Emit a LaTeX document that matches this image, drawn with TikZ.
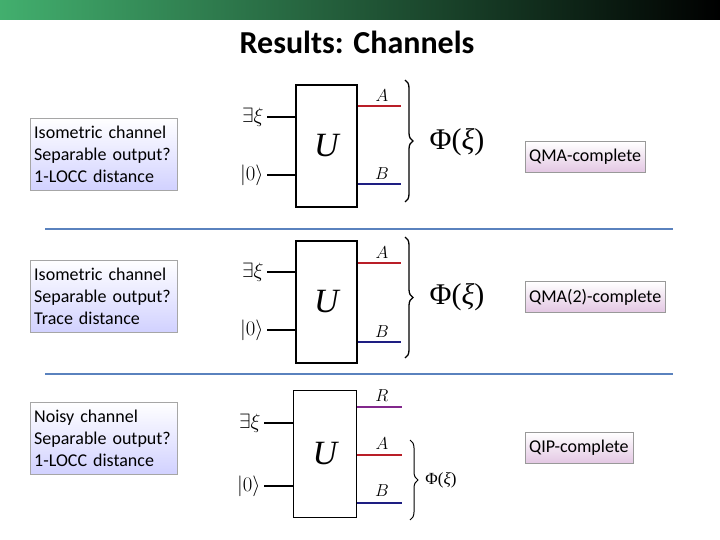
\documentclass[tikz,border=0pt]{standalone}
\usepackage{fontspec}
\setmainfont{Carlito}
\newfontfamily\serf{Liberation Serif}
\usetikzlibrary{decorations.pathreplacing}
\definecolor{gA}{RGB}{66,175,110}
\definecolor{wA}{RGB}{185,30,40}
\definecolor{wB}{RGB}{30,30,130}
\definecolor{wR}{RGB}{130,40,140}
\definecolor{sepc}{RGB}{90,130,190}
\newcommand{\phixi}{Φ(\textit{ξ})}
\tikzset{
 info/.style={draw=gray!70,top color=white,bottom color=blue!18,anchor=north west,align=left,font=\fontsize{18}{22}\selectfont,inner sep=4pt,text width=139pt,minimum height=72pt},
 res/.style={draw=gray!80,top color=white,bottom color=violet!22,font=\fontsize{18}{20}\selectfont,minimum height=31pt,anchor=west,inner sep=4pt},
 gate/.style={draw,line width=1.8pt},
 wire/.style={line width=1.6pt},
 brc/.style={decorate,decoration={brace,amplitude=8pt},line width=1.3pt},
 sep/.style={draw=sepc,line width=1.8pt},
 tin/.style={left,font=\fontsize{20}{20}\selectfont},
 tab/.style={font=\fontsize{17}{17}\selectfont},
 bigu/.style={font=\serf\itshape\fontsize{34}{34}\selectfont},
 bigp/.style={font=\serf\fontsize{30}{30}\selectfont},
}
\begin{document}
\begin{tikzpicture}[x=1pt,y=-1pt]
\useasboundingbox (0,0) rectangle (720,540);
\shade[left color=gA,right color=black] (0,0) rectangle (720,20);
\node[font=\bfseries\fontsize{32}{34}\selectfont] (title) at (357,42) {Results: Channels};
% left boxes
\node[info] (i1) at (30,118) {Isometric channel\\Separable output?\\1-LOCC distance};
\node[info] (i2) at (30,260) {Isometric channel\\Separable output?\\Trace distance};
\node[info] (i3) at (30,402) {Noisy channel\\Separable output?\\1-LOCC distance};
% results
\node[res] (r1) at (525,157) {QMA-complete};
\node[res] (r2) at (525,297) {QMA(2)-complete};
\node[res] (r3) at (525,448) {QIP-complete};
% separators
\coordinate (s1a) at (45,229); \coordinate (s1b) at (673,229);
\coordinate (s2a) at (45,374); \coordinate (s2b) at (673,374);
\draw[sep] (s1a)--(s1b); \draw[sep] (s2a)--(s2b);
% circuit 1
\node[gate,minimum width=61pt,minimum height=122pt] (u1) at (326.5,146) {};
\node[bigu] (U1) at (u1) {U};
\coordinate (x1) at (267,117); \coordinate (z1) at (267,175);
\draw[wire] (x1)--(u1.west|-x1); \draw[wire] (z1)--(u1.west|-z1);
\node[tin] (lx1) at (x1) {$\exists\xi$};
\node[tin] (lz1) at (z1) {$|0\rangle$};
\coordinate (a1) at (401,106); \coordinate (b1) at (401,184);
\draw[wire,wA] (u1.east|-a1)--(a1); \draw[wire,wB] (u1.east|-b1)--(b1);
\node[tab] (la1) at (382,96) {$A$};
\node[tab] (lb1) at (382,174) {$B$};
\coordinate (bt1) at (405,80); \coordinate (bb1) at (405,202);
\draw[brc] (bt1)--(bb1);
\node[bigp] (p1) at (457,142) {\phixi};
% circuit 2
\node[gate,minimum width=61pt,minimum height=122pt] (u2) at (326.5,302) {};
\node[bigu] (U2) at (u2) {U};
\coordinate (x2) at (267,272); \coordinate (z2) at (267,330);
\draw[wire] (x2)--(u2.west|-x2); \draw[wire] (z2)--(u2.west|-z2);
\node[tin] (lx2) at (x2) {$\exists\xi$};
\node[tin] (lz2) at (z2) {$|0\rangle$};
\coordinate (a2) at (401,263); \coordinate (b2) at (401,342);
\draw[wire,wA] (u2.east|-a2)--(a2); \draw[wire,wB] (u2.east|-b2)--(b2);
\node[tab] (la2) at (382,253) {$A$};
\node[tab] (lb2) at (382,332) {$B$};
\coordinate (bt2) at (405,237); \coordinate (bb2) at (405,358);
\draw[brc] (bt2)--(bb2);
\node[bigp] (p2) at (457,297) {\phixi};
% circuit 3
\node[gate,minimum width=63pt,minimum height=127pt] (u3) at (325,454) {};
\node[bigu] (U3) at (u3) {U};
\coordinate (x3) at (264,423); \coordinate (z3) at (264,486);
\draw[wire] (x3)--(u3.west|-x3); \draw[wire] (z3)--(u3.west|-z3);
\node[tin] (lx3) at (x3) {$\exists\xi$};
\node[tin] (lz3) at (z3) {$|0\rangle$};
\coordinate (r3c) at (402,407); \coordinate (a3) at (402,455); \coordinate (b3) at (402,503);
\draw[wire,wR] (u3.east|-r3c)--(r3c); \draw[wire,wA] (u3.east|-a3)--(a3); \draw[wire,wB] (u3.east|-b3)--(b3);
\node[tab] (lr3) at (382,396) {$R$};
\node[tab] (la3) at (382,444) {$A$};
\node[tab] (lb3) at (382,491) {$B$};
\coordinate (bt3) at (410,440); \coordinate (bb3) at (410,520);
\draw[brc,line width=1pt] (bt3)--(bb3);
\node[font=\serf\fontsize{17}{17}\selectfont] (p3) at (441,480) {\phixi};
\end{tikzpicture}
\end{document}
